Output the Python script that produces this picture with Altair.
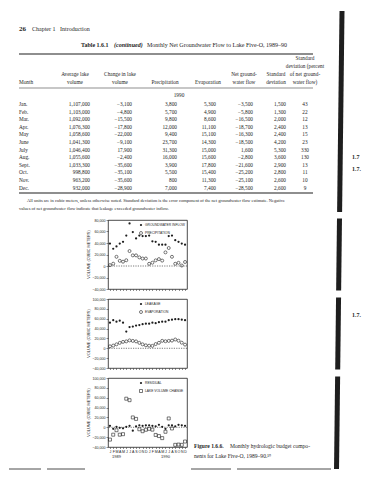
import altair as alt
import pandas as pd

# ---------------- table data (1990) ----------------
months_1990 = ["Jan.", "Feb.", "Mar.", "Apr.", "May", "June", "July", "Aug.", "Sept.", "Oct.", "Nov.", "Dec."]
avg_lake_volume = [1107000, 1103000, 1092000, 1076300, 1058600, 1041300, 1046400, 1055600, 1033300, 998800, 963200, 932000]
change_lake_volume = [-3100, -4800, -15500, -17800, -22000, -9100, 17900, -2400, -35600, -35100, -35600, -28900]
precipitation_1990 = [3800, 5700, 9800, 12000, 9400, 23700, 31300, 16000, 3900, 5500, 800, 7000]
evaporation_1990 = [5300, 4900, 8600, 11100, 15100, 14300, 15000, 15600, 17800, 15400, 11300, 7400]
net_gw_flow = [-3500, -5800, -16500, -18700, -16300, -18500, 1600, -2800, -21600, -25200, -25100, -28500]
std_dev = [1500, 1300, 2000, 2400, 2400, 4200, 5300, 3600, 2900, 2800, 2600, 2600]
std_dev_pct = [43, 22, 12, 13, 15, 23, 330, 130, 13, 11, 10, 9]

# ---------------- figure data (Jan 1989 - Dec 1990) ----------------
month_letters = ["J", "F", "M", "A", "M", "J", "J", "A", "S", "O", "N", "D"]
year_labels = ["1989", "1990"]
gw_inflow = [39000, 30000, 34000, 39000, 42000, 53000, 74000, 59000, 48000, 53000, 52000, 52000,
             53000, 43000, 42000, 37000, 37000, 37000, 52000, 53000, 45000, 42000, 39000, 37000]
precip_1989 = [1500, 4000, 16000, 9000, 7500, 10000, 26000, 18500, 18500, 15000, 13000, 13000]
leakage = [52000, 57000, 54000, 56000, 52000, 34000, 43000, 44000, 46000, 47000, 49000, 50000,
           50000, 52000, 51000, 53000, 54000, 54000, 57000, 58000, 59000, 59000, 58000, 57000]
evap_1989 = [4000, 5500, 8000, 11000, 13000, 14000, 16000, 15000, 14000, 11000, 8000, 6000]
residual = [3000, -3000, 1000, -1000, -2000, 1000, 3000, -7000, 2000, 4000, 3000, 4000,
            4000, 3000, 2000, 5000, 1000, -3000, 4000, 4000, 2000, 5000, 4000, 3000]
lake_change_1989 = [-25000, -15000, -6000, -15000, -14000, 58000, 55000, 20000, 17000, -4000, -8000, -5000]

precip_series = precip_1989 + precipitation_1990
evap_series = evap_1989 + evaporation_1990
lake_change_series = lake_change_1989 + change_lake_volume

# ---------------- styling / layout ----------------
INK = "#1e1e1e"
SERIF = "Liberation Serif"
SANS = "Liberation Sans"
FRAME_X = 107          # page x of the shared plot origin (panel frames' left edge)
LEFT_EXT = FRAME_X - 8
TOP_W = 354 - FRAME_X
TOP_H = 202
PANEL_W = 79
PANEL_H = 69
PANEL_TOPS = [221, 299, 377]   # page y of each panel frame (approx.)


def bar_x(y):
    """x of the slanted black page-edge bar at page height y"""
    return 341 - 5.5 * (y - 9) / 461


def fmt(v):
    s = f"{abs(v):,}"
    return ("\u2212" + s) if v < 0 else s


# ---------------- top: page header + table (page coordinates) ----------------
T = []
def add(x, y, t, align="left", weight="normal", size=6.0, style="normal"):
    T.append((x, y, t, align, weight, size, style))

add(18, 27, "26", weight="bold", size=7.0)
add(31, 27, "Chapter 1", size=6.0)
add(59, 27, "Introduction", size=6.0)
add(80, 43, "Table 1.6.1", weight="bold", size=6.0)
add(113, 43, "(continued)", weight="bold", size=6.0, style="italic")
add(146, 43, "Monthly Net Groundwater Flow to Lake Five-O, 1989\u201390", size=6.0)

HS = 5.3
COL_AVG, COL_CHG, COL_PRE, COL_EVA, COL_NET, COL_STD, COL_PCT = 89, 131, 176, 215, 252, 285, 304
add(COL_PCT, 56, "Standard", "center", size=HS)
add(COL_PCT, 64, "deviation (percent", "center", size=HS)
add(74, 72, "Average lake", "center", size=HS)
add(119, 72, "Change in lake", "center", size=HS)
add(243, 72, "Net ground-", "center", size=HS)
add(275, 72, "Standard", "center", size=HS)
add(COL_PCT, 72, "of net ground-", "center", size=HS)
add(18, 80, "Month", size=HS)
add(74, 80, "volume", "center", size=HS)
add(119, 80, "volume", "center", size=HS)
add(164, 80, "Precipitation", "center", size=HS)
add(207, 80, "Evaporation", "center", size=HS)
add(243, 80, "water flow", "center", size=HS)
add(275, 80, "deviation", "center", size=HS)
add(COL_PCT, 80, "water flow)", "center", size=HS)
add(178, 93, "1990", "center", size=HS)

for i, m in enumerate(months_1990):
    yy = 102 + i * 7.6
    add(18, yy, m, size=HS)
    add(COL_AVG, yy, fmt(avg_lake_volume[i]), "right", size=HS)
    add(COL_CHG, yy, fmt(change_lake_volume[i]), "right", size=HS)
    add(COL_PRE, yy, fmt(precipitation_1990[i]), "right", size=HS)
    add(COL_EVA, yy, fmt(evaporation_1990[i]), "right", size=HS)
    add(COL_NET, yy, fmt(net_gw_flow[i]), "right", size=HS)
    add(COL_STD, yy, fmt(std_dev[i]), "right", size=HS)
    add(COL_PCT, yy, str(std_dev_pct[i]), "center", size=HS)

add(26, 199, "All units are in cubic meters, unless otherwise noted. Standard deviation is the error component of the net groundwater flow estimate. Negative", size=4.5)
add(18, 206.5, "values of net groundwater flow indicate that leakage exceeded groundwater inflow.", size=4.5)
add(351, 155, "1.7", weight="bold", size=6.0)
add(351, 167, "1.7.", weight="bold", size=6.0)

top_rules = [
    (8, 8.5, 8, 9, 0.5, "white"),
    (18, 312, 52, 52, 1.2, INK),
    (18, 312, 86, 86, 0.5, INK),
    (18, 312, 191, 191, 1.2, INK),
    (bar_x(9), bar_x(8 + TOP_H), 9, 8 + TOP_H, 5.0, INK),
]

txs = alt.Scale(domain=[FRAME_X, FRAME_X + TOP_W], nice=False, zero=False)
tys = alt.Scale(domain=[8, 8 + TOP_H], nice=False, zero=False, reverse=True)
top_layers = []
rdf = pd.DataFrame(top_rules, columns=["x", "x2", "y", "y2", "sw", "c"])
for (sw, c), g in rdf.groupby(["sw", "c"]):
    top_layers.append(alt.Chart(g).mark_rule(color=c, strokeWidth=float(sw)).encode(
        x=alt.X("x:Q", scale=txs, axis=None), x2="x2:Q",
        y=alt.Y("y:Q", scale=tys, axis=None), y2="y2:Q"))
tdf = pd.DataFrame(T, columns=["x", "y", "t", "align", "weight", "size", "style"])
for (al, wt, sz, st), g in tdf.groupby(["align", "weight", "size", "style"]):
    top_layers.append(alt.Chart(g).mark_text(
        align=al, baseline="middle", fontWeight=wt, fontSize=float(sz),
        fontStyle=st, font=SERIF, color=INK).encode(
        x=alt.X("x:Q", scale=txs, axis=None),
        y=alt.Y("y:Q", scale=tys, axis=None),
        text="t:N"))
top = alt.layer(*top_layers).properties(width=TOP_W, height=TOP_H)


# ---------------- panels ----------------
one = pd.DataFrame({"k": [0]})


def vrule(x1, x2, y1, y2, sw, color=INK):
    return alt.Chart(one).mark_rule(color=color, strokeWidth=sw).encode(
        x=alt.value(x1), x2=alt.value(x2), y=alt.value(y1), y2=alt.value(y2))


def vtext(x, y, t, size=5.6, weight="normal", font=SERIF, align="left", angle=0):
    return alt.Chart(one).mark_text(align=align, baseline="middle", fontSize=size, angle=angle,
                                    fontWeight=weight, font=font, color=INK).encode(
        x=alt.value(x), y=alt.value(y), text=alt.value(t))


def panel(a, b, name_a, name_b, shape_b, ydom, idx):
    bottom = idx == 2
    top_y = PANEL_TOPS[idx]
    df = pd.DataFrame({
        "m": list(range(24)) * 2,
        "v": list(a) + list(b),
        "s": [name_a] * 24 + [name_b] * 24,
    })
    letters = "[" + ",".join(f"'{c}'" for c in month_letters) + "]"
    xaxis = alt.Axis(values=list(range(24)), labels=bottom, labelExpr=f"{letters}[datum.value % 12]",
                     tickSize=1.5, tickWidth=0.5, tickColor=INK, domain=False, grid=False, title=None,
                     labelFontSize=3.6, labelFont=SANS, labelColor=INK, labelPadding=0.5)
    xs = alt.Scale(domain=[-0.6, 23.6], nice=False, zero=False)
    ys = alt.Scale(domain=ydom, nice=False, zero=False)
    yaxis = alt.Axis(values=list(range(ydom[0], ydom[1] + 1, 20000)), format=",d",
                     tickSize=2, tickWidth=0.5, tickColor=INK, domain=False, grid=False,
                     labelFontSize=3.6, labelFont=SANS, labelColor=INK, labelPadding=1,
                     minExtent=LEFT_EXT, maxExtent=LEFT_EXT, title=None)
    base = alt.Chart(df).encode(x=alt.X("m:Q", scale=xs, axis=xaxis),
                                y=alt.Y("v:Q", scale=ys, axis=yaxis))
    filled = base.transform_filter(alt.datum.s == name_a).mark_point(
        shape="circle", filled=True, size=5, color=INK, opacity=1)
    hollow = base.transform_filter(alt.datum.s == name_b).mark_point(
        shape=shape_b, filled=False, size=9, color=INK, strokeWidth=0.6, opacity=1)
    zdf = pd.DataFrame({"v": [0]})
    zero = alt.Chart(zdf).mark_rule(color=INK, strokeWidth=0.6, strokeDash=[1.2, 1.2]).encode(
        y=alt.Y("v:Q", scale=ys, axis=yaxis))
    leg = pd.DataFrame({"t": [name_a, name_b]})
    leg_a = alt.Chart(leg).transform_filter(alt.datum.t == name_a).mark_point(
        shape="circle", filled=True, size=5, color=INK, opacity=1).encode(
        x=alt.value(33), y=alt.value(5))
    leg_b = alt.Chart(leg).transform_filter(alt.datum.t == name_b).mark_point(
        shape=shape_b, filled=False, size=9, color=INK, strokeWidth=0.6, opacity=1).encode(
        x=alt.value(33), y=alt.value(13))
    leg_ta = alt.Chart(leg).transform_filter(alt.datum.t == name_a).mark_text(
        align="left", baseline="middle", fontSize=3.3, font=SANS, color=INK).encode(
        x=alt.value(37), y=alt.value(5), text="t:N")
    leg_tb = alt.Chart(leg).transform_filter(alt.datum.t == name_b).mark_text(
        align="left", baseline="middle", fontSize=3.3, font=SANS, color=INK).encode(
        x=alt.value(37), y=alt.value(13), text="t:N")
    layers = [zero, hollow, filled, leg_a, leg_b, leg_ta, leg_tb,
              vtext(-19, PANEL_H / 2, "VOLUME (CUBIC METERS)", size=3.8, font=SANS,
                    align="center", angle=270)]

    # page decorations that sit beside the panel (positions relative to the frame)
    y_lo = -1.5
    y_hi = (468 - top_y) if bottom else PANEL_H + 1.5
    layers.append(vrule(bar_x(top_y + y_lo) - FRAME_X, bar_x(top_y + y_hi) - FRAME_X, y_lo, y_hi, 5.0))
    if bottom:
        ydf = pd.DataFrame({"m": [2, 17], "t": year_labels})
        layers.append(alt.Chart(ydf).mark_text(fontSize=4, font=SANS, color=INK, baseline="middle").encode(
            x=alt.X("m:Q", scale=xs, axis=xaxis), y=alt.value(PANEL_H + 10), text="t:N"))
        yb = 468 - top_y
        layers += [
            vrule(8 - FRAME_X, 40 - FRAME_X, yb, yb, 0.8),
            vrule(46 - FRAME_X, 84 - FRAME_X, yb, yb, 0.8),
            vrule(190 - FRAME_X, 230 - FRAME_X, yb, yb, 0.8),
            vrule(236 - FRAME_X, 330 - FRAME_X, yb, yb, 0.8),
            vtext(193 - FRAME_X, PANEL_H - 1, "Figure 1.6.6.", weight="bold"),
            vtext(229 - FRAME_X, PANEL_H - 1, "Monthly hydrologic budget compo-"),
            vtext(193 - FRAME_X, PANEL_H + 9, "nents for Lake Five-O, 1989\u201390.\u00b9\u2079"),
        ]
    if idx == 1:
        layers.append(vtext(351 - FRAME_X, 315 - top_y, "1.7.", size=6.0, weight="bold"))

    return alt.layer(*layers).properties(
        width=PANEL_W, height=PANEL_H,
        view=alt.ViewBackground(stroke=INK, strokeWidth=0.8))


p1 = panel(gw_inflow, precip_series, "GROUNDWATER INFLOW", "PRECIPITATION", "circle", [-40000, 80000], 0)
p2 = panel(leakage, evap_series, "LEAKAGE", "EVAPORATION", "circle", [-40000, 100000], 1)
p3 = panel(residual, lake_change_series, "RESIDUAL", "LAKE VOLUME CHANGE", "square", [-40000, 100000], 2)

chart = alt.vconcat(top, p1, p2, p3, spacing=0).properties(
    padding=0, background="white"
).configure_view(stroke=None)

chart.save("out.html", embed_options={"renderer": "svg", "actions": False})
